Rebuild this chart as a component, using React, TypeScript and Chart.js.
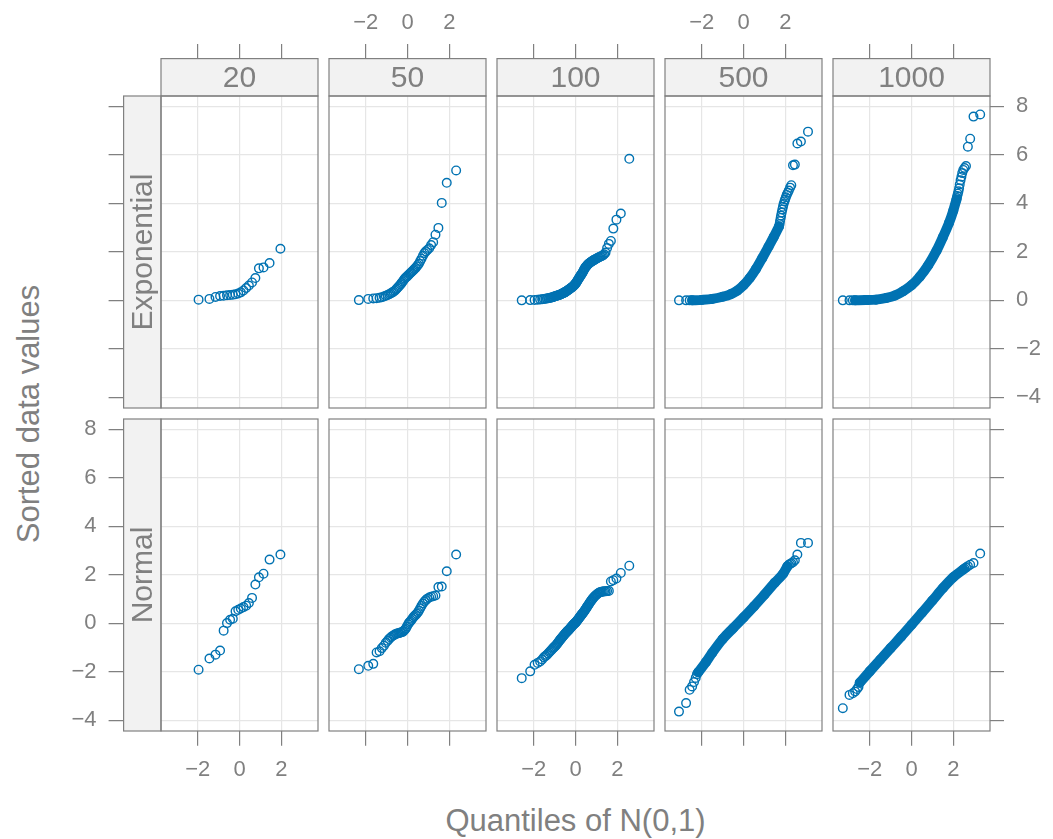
import React, { useEffect, useRef } from "react";
import { Chart, registerables } from "chart.js";

Chart.register(...registerables);

// ---- labels and axis values ----
const sampleSizes = ["20", "50", "100", "500", "1000"];
const distributions = ["Exponential", "Normal"];
const xTickValues = [-2, 0, 2];
const yTickValues = [-4, -2, 0, 2, 4, 6, 8];
const xRange = [-3.76, 3.76];
const yRange = [-4.44, 8.43];

// ---- n = 20 ----
const q20 = [-1.96, -1.44, -1.15, -0.93, -0.76, -0.6, -0.45, -0.32, -0.19, -0.06, 0.06, 0.19, 0.32, 0.45, 0.6, 0.76, 0.93, 1.15, 1.44, 1.96];
const exp20 = [0.03, 0.06, 0.14, 0.18, 0.19, 0.21, 0.22, 0.23, 0.25, 0.28, 0.33, 0.41, 0.51, 0.61, 0.74, 0.92, 1.32, 1.36, 1.54, 2.13];
const norm20 = [-1.91, -1.45, -1.29, -1.12, -0.3, 0.01, 0.15, 0.19, 0.5, 0.56, 0.61, 0.67, 0.73, 0.84, 1.05, 1.6, 1.9, 2.05, 2.63, 2.84];

// ---- n = 50 ----
const q50 = [-2.33, -1.88, -1.64, -1.48, -1.34, -1.23, -1.13, -1.04, -0.95, -0.88, -0.81, -0.74, -0.67, -0.61, -0.55, -0.5, -0.44, -0.39, -0.33, -0.28, -0.23, -0.18, -0.13, -0.08, -0.03, 0.03, 0.08, 0.13, 0.18, 0.23, 0.28, 0.33, 0.39, 0.44, 0.5, 0.55, 0.61, 0.67, 0.74, 0.81, 0.88, 0.95, 1.04, 1.13, 1.23, 1.34, 1.48, 1.64, 1.88, 2.33];
const exp50 = [0.01, 0.06, 0.08, 0.09, 0.11, 0.13, 0.16, 0.19, 0.22, 0.25, 0.28, 0.32, 0.36, 0.4, 0.45, 0.5, 0.55, 0.6, 0.66, 0.72, 0.78, 0.84, 0.9, 0.94, 0.98, 1.03, 1.08, 1.12, 1.16, 1.2, 1.24, 1.29, 1.34, 1.4, 1.46, 1.52, 1.62, 1.72, 1.84, 1.95, 2.02, 2.08, 2.15, 2.28, 2.4, 2.71, 2.99, 4.02, 4.85, 5.36];
const norm50 = [-1.89, -1.75, -1.67, -1.2, -1.15, -1.02, -0.92, -0.8, -0.72, -0.64, -0.58, -0.53, -0.5, -0.46, -0.44, -0.42, -0.41, -0.4, -0.38, -0.37, -0.35, -0.31, -0.26, -0.21, -0.13, -0.04, 0.03, 0.08, 0.13, 0.19, 0.25, 0.3, 0.35, 0.4, 0.46, 0.53, 0.62, 0.72, 0.82, 0.9, 0.96, 1.02, 1.07, 1.1, 1.12, 1.15, 1.5, 1.52, 2.15, 2.84];

// ---- n = 100 ----
const q100 = [
  -2.576, -2.17, -1.96, -1.812, -1.695, -1.598, -1.514, -1.44, -1.372, -1.311,
  -1.254, -1.2, -1.15, -1.103, -1.058, -1.015, -0.974, -0.935, -0.896, -0.86,
  -0.824, -0.789, -0.755, -0.722, -0.69, -0.659, -0.628, -0.598, -0.568, -0.539,
  -0.51, -0.482, -0.454, -0.426, -0.399, -0.372, -0.345, -0.319, -0.292, -0.266,
  -0.24, -0.215, -0.189, -0.164, -0.138, -0.113, -0.088, -0.063, -0.038, -0.013,
  0.013, 0.038, 0.063, 0.088, 0.113, 0.138, 0.164, 0.189, 0.215, 0.24,
  0.266, 0.292, 0.319, 0.345, 0.372, 0.399, 0.426, 0.454, 0.482, 0.51,
  0.539, 0.568, 0.598, 0.628, 0.659, 0.69, 0.722, 0.755, 0.789, 0.824,
  0.86, 0.896, 0.935, 0.974, 1.015, 1.058, 1.103, 1.15, 1.2, 1.254,
  1.311, 1.372, 1.44, 1.514, 1.598, 1.695, 1.812, 1.96, 2.17, 2.576,
];
const exp100 = [
  0.0, 0.01, 0.02, 0.03, 0.04, 0.05, 0.06, 0.07, 0.08, 0.09,
  0.1, 0.11, 0.12, 0.13, 0.14, 0.16, 0.17, 0.18, 0.19, 0.2,
  0.21, 0.22, 0.23, 0.24, 0.25, 0.27, 0.28, 0.29, 0.31, 0.32,
  0.33, 0.35, 0.37, 0.38, 0.4, 0.42, 0.43, 0.45, 0.46, 0.48,
  0.5, 0.51, 0.53, 0.54, 0.56, 0.58, 0.6, 0.62, 0.65, 0.68,
  0.7, 0.74, 0.77, 0.81, 0.84, 0.88, 0.91, 0.95, 0.98, 1.02,
  1.05, 1.09, 1.12, 1.16, 1.2, 1.25, 1.29, 1.33, 1.37, 1.4,
  1.43, 1.46, 1.49, 1.51, 1.53, 1.55, 1.57, 1.59, 1.61, 1.63,
  1.65, 1.67, 1.69, 1.71, 1.73, 1.75, 1.77, 1.79, 1.81, 1.83,
  1.85, 1.9, 1.97, 2.16, 2.33, 2.45, 2.96, 3.33, 3.58, 5.84,
];
const norm100 = [
  -2.26, -1.98, -1.71, -1.63, -1.57, -1.49, -1.4, -1.35, -1.3, -1.24,
  -1.19, -1.14, -1.1, -1.05, -1.01, -0.97, -0.94, -0.9, -0.86, -0.82,
  -0.78, -0.74, -0.7, -0.66, -0.63, -0.59, -0.56, -0.53, -0.5, -0.47,
  -0.44, -0.41, -0.39, -0.36, -0.33, -0.31, -0.29, -0.26, -0.24, -0.21,
  -0.19, -0.16, -0.14, -0.11, -0.09, -0.06, -0.04, -0.02, 0.0, 0.02,
  0.04, 0.07, 0.1, 0.13, 0.15, 0.18, 0.21, 0.24, 0.27, 0.3,
  0.33, 0.36, 0.39, 0.42, 0.45, 0.48, 0.51, 0.55, 0.58, 0.62,
  0.66, 0.7, 0.74, 0.78, 0.82, 0.86, 0.9, 0.94, 0.98, 1.02,
  1.06, 1.1, 1.13, 1.16, 1.19, 1.22, 1.25, 1.27, 1.29, 1.3,
  1.31, 1.32, 1.32, 1.33, 1.34, 1.73, 1.78, 1.85, 2.08, 2.38,
];

// ---- n = 500 and n = 1000 ----
// The packed middle of each sample is traced as a centre line (band);
// the sparse points in both tails are listed one by one.
const exp500LowX = [-3.09, -2.75, -2.58];
const exp500LowY = [0.0, 0.0, 0.0];
const exp500BandX = [-2.46, -2.0, -1.5, -1.0, -0.6, -0.3, 0.0, 0.3, 0.6, 0.9, 1.2, 1.45, 1.7];
const exp500BandY = [0.0, 0.02, 0.06, 0.15, 0.26, 0.4, 0.62, 0.92, 1.3, 1.75, 2.22, 2.62, 3.05];
const exp500HighX = [1.73, 1.75, 1.78, 1.8, 1.83, 1.86, 1.89, 1.92, 1.96, 1.99, 2.03, 2.07, 2.12, 2.17, 2.23, 2.29, 2.37, 2.46, 2.58, 2.75, 3.09];
const exp500HighY = [3.15, 3.27, 3.4, 3.5, 3.62, 3.75, 3.86, 3.97, 4.08, 4.16, 4.25, 4.35, 4.44, 4.53, 4.65, 4.75, 5.57, 5.6, 6.47, 6.55, 6.96];

const exp1000LowX = [-3.29, -2.97, -2.81];
const exp1000LowY = [0.0, 0.0, 0.0];
const exp1000BandX = [-2.7, -2.2, -1.7, -1.2, -0.8, -0.4, 0.0, 0.4, 0.8, 1.2, 1.5, 1.8, 2.0, 2.15];
const exp1000BandY = [0.0, 0.01, 0.03, 0.1, 0.2, 0.38, 0.62, 0.98, 1.45, 2.05, 2.6, 3.2, 3.7, 4.15];
const exp1000HighX = [2.17, 2.19, 2.22, 2.25, 2.28, 2.31, 2.35, 2.39, 2.43, 2.48, 2.54, 2.61, 2.7, 2.81, 2.97, 3.29];
const exp1000HighY = [4.22, 4.3, 4.4, 4.5, 4.62, 4.78, 4.95, 5.1, 5.25, 5.38, 5.46, 5.54, 6.34, 6.67, 7.58, 7.67];

const norm500LowX = [-3.09, -2.75, -2.58, -2.46, -2.37, -2.29, -2.23];
const norm500LowY = [-3.64, -3.29, -2.74, -2.6, -2.42, -2.25, -2.1];
const norm500BandX = [-2.17, -1.8, -1.5, -1.0, -0.5, 0.0, 0.5, 1.0, 1.5, 1.9, 2.1];
const norm500BandY = [-2.02, -1.6, -1.22, -0.65, -0.2, 0.24, 0.7, 1.18, 1.68, 2.05, 2.35];
const norm500HighX = [2.17, 2.23, 2.29, 2.37, 2.46, 2.58, 2.75, 3.09];
const norm500HighY = [2.42, 2.45, 2.48, 2.52, 2.6, 2.84, 3.32, 3.32];

const norm1000LowX = [-3.29, -2.97, -2.81, -2.7, -2.61, -2.54];
const norm1000LowY = [-3.5, -2.95, -2.88, -2.81, -2.71, -2.62];
const norm1000BandX = [-2.48, -2.0, -1.5, -1.0, -0.5, 0.0, 0.5, 1.0, 1.5, 2.0, 2.48];
const norm1000BandY = [-2.45, -1.98, -1.5, -1.02, -0.55, -0.06, 0.44, 0.94, 1.45, 1.9, 2.22];
const norm1000HighX = [2.54, 2.61, 2.7, 2.81, 2.97, 3.29];
const norm1000HighY = [2.26, 2.3, 2.36, 2.42, 2.49, 2.88];

// ---- styling and layout ----
const FONT = '"Liberation Sans", Arial, Helvetica, sans-serif';
const TEXT = "#808080";
const FRAME = "#808080";
const STRIP_BG = "#f2f2f2";
const GRID = "#e6e6e6";
const POINT = "#0072b2";
const TICK_FONT = 22;
const TITLE_FONT = 31;
const RING_R = 4.3;
const RING_W = 1.4;

const PANEL_W = 157;
const PANEL_H = 312;
const COL_LEFT = [161, 329, 497, 665, 833];
const ROW_TOP = [96, 419];
const STRIP = 37.4;
const TICK = 14.7;
const M = { left: 110, right: 60, top: 100, bottom: 70 };

type XY = { x: number; y: number };
const zip = (xs: number[], ys: number[]): XY[] => xs.map((x, i) => ({ x, y: ys[i] }));

interface PanelData {
  points: XY[];
  bands: XY[][];
}

const denseSample = (lx: number[], ly: number[], bx: number[], by: number[], hx: number[], hy: number[]): PanelData => ({
  points: [...zip(lx, ly), ...zip(bx, by), ...zip(hx, hy)],
  bands: [zip(bx, by)],
});

const panelData: PanelData[][] = [
  [
    { points: zip(q20, exp20), bands: [] },
    { points: zip(q50, exp50), bands: [] },
    { points: zip(q100, exp100), bands: [] },
    denseSample(exp500LowX, exp500LowY, exp500BandX, exp500BandY, exp500HighX, exp500HighY),
    denseSample(exp1000LowX, exp1000LowY, exp1000BandX, exp1000BandY, exp1000HighX, exp1000HighY),
  ],
  [
    { points: zip(q20, norm20), bands: [] },
    { points: zip(q50, norm50), bands: [] },
    { points: zip(q100, norm100), bands: [] },
    denseSample(norm500LowX, norm500LowY, norm500BandX, norm500BandY, norm500HighX, norm500HighY),
    denseSample(norm1000LowX, norm1000LowY, norm1000BandX, norm1000BandY, norm1000HighX, norm1000HighY),
  ],
];

const fmt = (v: number | string) => {
  const n = Number(v);
  return n < 0 ? `\u2212${Math.abs(n)}` : `${n}`;
};

// Draws the panel box plus the shaded strips that carry the column / row labels.
const framePlugin = {
  id: "frame",
  afterDraw(chart: any, _args: any, opts: any) {
    const { ctx, chartArea: a } = chart;
    const w = a.right - a.left;
    const h = a.bottom - a.top;
    ctx.save();
    ctx.lineWidth = 1.2;
    ctx.strokeStyle = FRAME;
    ctx.fillStyle = TEXT;
    ctx.font = `30px ${FONT}`;
    ctx.textAlign = "center";
    ctx.textBaseline = "middle";

    if (opts.row === 0) {
      ctx.fillStyle = STRIP_BG;
      ctx.fillRect(a.left, a.top - STRIP, w, STRIP);
      ctx.strokeRect(a.left, a.top - STRIP, w, STRIP);
      ctx.fillStyle = TEXT;
      ctx.fillText(opts.colLabel, a.left + w / 2, a.top - STRIP / 2 + 1);
    }
    if (opts.col === 0) {
      ctx.fillStyle = STRIP_BG;
      ctx.fillRect(a.left - STRIP, a.top, STRIP, h);
      ctx.strokeRect(a.left - STRIP, a.top, STRIP, h);
      ctx.fillStyle = TEXT;
      ctx.save();
      ctx.translate(a.left - STRIP / 2 + 1, a.top + h / 2);
      ctx.rotate(-Math.PI / 2);
      ctx.fillText(opts.rowLabel, 0, 0);
      ctx.restore();
    }
    ctx.strokeRect(a.left, a.top, w, h);
    ctx.restore();
  },
};

function makeConfig(row: number, col: number, data: PanelData): any {
  const isTop = row === 0;
  const yHasTicks = col === 0 || col === 4;
  const xLabels = isTop ? col === 1 || col === 3 : col % 2 === 0;
  const yLabels = (col === 0 && row === 1) || (col === 4 && row === 0);

  const rings = {
    pointStyle: "circle",
    pointRadius: RING_R,
    pointHoverRadius: RING_R,
    pointBorderWidth: RING_W,
    pointBorderColor: POINT,
    pointBackgroundColor: "rgba(0,0,0,0)",
  };

  const datasets: any[] = [
    ...data.bands.map((b) => ({
      data: b,
      showLine: true,
      borderColor: POINT,
      borderWidth: 2 * RING_R + RING_W,
      borderCapStyle: "round",
      borderJoinStyle: "round",
      cubicInterpolationMode: "monotone",
      pointRadius: 0,
    })),
    { data: data.points, showLine: false, ...rings },
  ];

  return {
    type: "scatter",
    data: { datasets },
    options: {
      animation: false,
      responsive: false,
      devicePixelRatio: 1,
      events: [],
      layout: {
        padding: {
          top: isTop ? 0 : M.top,
          bottom: isTop ? M.bottom : 0,
          left: col === 0 ? 0 : M.left,
          right: col === 4 ? 0 : M.right,
        },
      },
      plugins: {
        legend: { display: false },
        tooltip: { enabled: false },
        frame: { row, col, colLabel: sampleSizes[col], rowLabel: distributions[row] },
      },
      scales: {
        x: {
          type: "linear",
          position: isTop ? "top" : "bottom",
          min: xRange[0],
          max: xRange[1],
          afterBuildTicks: (s: any) => {
            s.ticks = xTickValues.map((value) => ({ value }));
          },
          afterFit: (s: any) => {
            s.height = isTop ? M.top : M.bottom;
          },
          border: { display: false },
          grid: {
            color: GRID,
            lineWidth: 1.2,
            tickColor: FRAME,
            tickWidth: 1.2,
            drawTicks: true,
            tickLength: isTop ? STRIP + TICK : TICK,
          },
          ticks: {
            color: xLabels ? TEXT : "rgba(0,0,0,0)",
            font: { family: FONT, size: TICK_FONT },
            padding: isTop ? 8 : 11,
            maxRotation: 0,
            autoSkip: false,
            callback: fmt,
          },
        },
        y: {
          type: "linear",
          position: col === 4 ? "right" : "left",
          min: yRange[0],
          max: yRange[1],
          afterBuildTicks: (s: any) => {
            s.ticks = yTickValues.map((value) => ({ value }));
          },
          afterFit: (s: any) => {
            s.width = col === 0 ? M.left : col === 4 ? M.right : 0;
          },
          border: { display: false },
          grid: {
            color: GRID,
            lineWidth: 1.2,
            tickColor: FRAME,
            tickWidth: 1.2,
            drawTicks: yHasTicks,
            tickLength: col === 0 ? STRIP + 15 : 14,
          },
          ticks: {
            display: yHasTicks,
            color: yLabels ? TEXT : "rgba(0,0,0,0)",
            font: { family: FONT, size: TICK_FONT },
            padding: 12,
            autoSkip: false,
            callback: fmt,
          },
        },
      },
    },
    plugins: [framePlugin],
  };
}

function Panel({ row, col }: { row: number; col: number }) {
  const ref = useRef<HTMLCanvasElement>(null);
  const w = PANEL_W + M.left + M.right;
  const h = PANEL_H + M.top + M.bottom;
  useEffect(() => {
    const chart = new Chart(ref.current as HTMLCanvasElement, makeConfig(row, col, panelData[row][col]));
    return () => chart.destroy();
  }, [row, col]);
  return (
    <canvas
      ref={ref}
      width={w}
      height={h}
      style={{
        position: "absolute",
        left: COL_LEFT[col] - M.left,
        top: ROW_TOP[row] - M.top,
        width: w,
        height: h,
      }}
    />
  );
}

export default function App() {
  const panelsLeft = COL_LEFT[0];
  const panelsRight = COL_LEFT[4] + PANEL_W;
  const panelsTop = ROW_TOP[0];
  const panelsBottom = ROW_TOP[1] + PANEL_H;
  const yTitleCentre = (panelsTop + panelsBottom) / 2;
  const yTitleSpan = 640;
  return (
    <div
      style={{
        position: "absolute",
        left: 0,
        top: 0,
        width: 1053,
        height: 839,
        background: "#ffffff",
        overflow: "hidden",
        fontFamily: FONT,
        color: TEXT,
      }}
    >
      {distributions.map((_, row) =>
        sampleSizes.map((_s, col) => <Panel key={`${row}-${col}`} row={row} col={col} />)
      )}
      <div
        style={{
          position: "absolute",
          left: panelsLeft,
          width: panelsRight - panelsLeft,
          top: 804,
          height: 34,
          lineHeight: "34px",
          fontSize: TITLE_FONT,
          textAlign: "center",
          whiteSpace: "nowrap",
        }}
      >
        Quantiles of N(0,1)
      </div>
      <div
        style={{
          position: "absolute",
          left: 29 - yTitleSpan / 2,
          top: yTitleCentre - 17,
          width: yTitleSpan,
          height: 34,
          lineHeight: "34px",
          fontSize: TITLE_FONT,
          textAlign: "center",
          whiteSpace: "nowrap",
          transform: "rotate(-90deg)",
        }}
      >
        Sorted data values
      </div>
    </div>
  );
}
